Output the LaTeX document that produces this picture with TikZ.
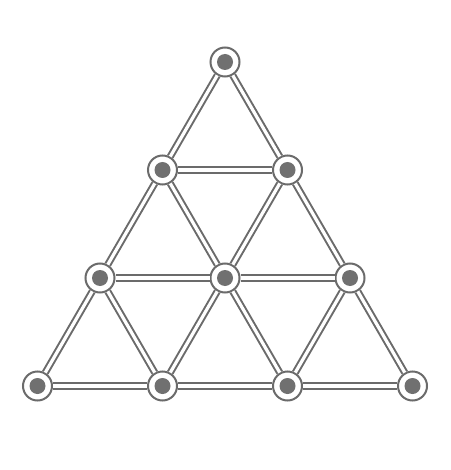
\documentclass[tikz,border=0pt]{standalone}
\begin{document}
\begin{tikzpicture}[x=1pt,y=-1pt,
  edge/.style={draw=linegray,line width=2pt,double=white,double distance=3.2pt},
  joint/.style={circle,draw=linegray,line width=2pt,fill=white,minimum size=29pt,inner sep=0pt,
    path picture={\fill[dotgray] (path picture bounding box.center) circle (8pt);}}]
\definecolor{linegray}{HTML}{6B6B6B}
\definecolor{dotgray}{HTML}{707070}
\useasboundingbox[fill=white] (0,0) rectangle (450,470);
\node[joint] (a) at (225,62) {};
\node[joint] (b1) at (162.5,170) {};
\node[joint] (b2) at (287.5,170) {};
\node[joint] (c1) at (100,278) {};
\node[joint] (c2) at (225,278) {};
\node[joint] (c3) at (350,278) {};
\node[joint] (d1) at (37.5,386) {};
\node[joint] (d2) at (162.5,386) {};
\node[joint] (d3) at (287.5,386) {};
\node[joint] (d4) at (412.5,386) {};
\foreach \u/\v in {a/b1,a/b2,b1/b2,b1/c1,b1/c2,b2/c2,b2/c3,c1/c2,c2/c3,c1/d1,c1/d2,c2/d2,c2/d3,c3/d3,c3/d4,d1/d2,d2/d3,d3/d4}
  \draw[edge] (\u) -- (\v);
\end{tikzpicture}
\end{document}
